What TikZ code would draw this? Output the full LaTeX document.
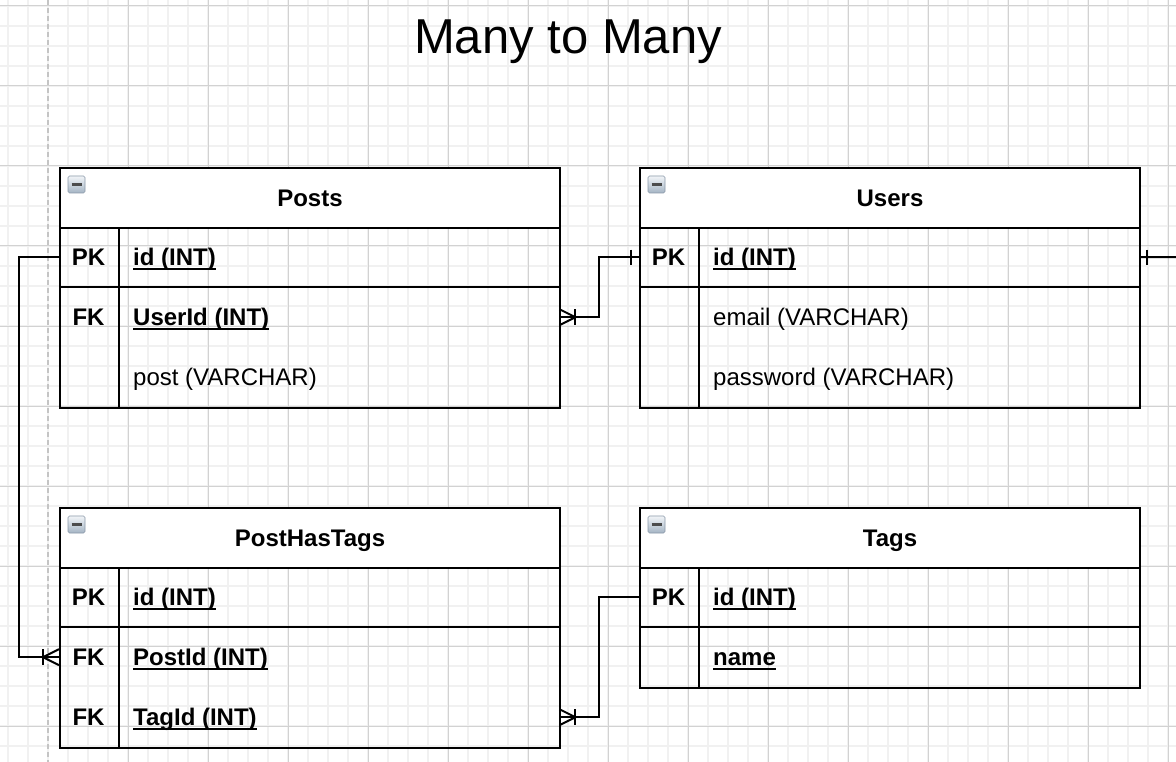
\documentclass[tikz,border=0pt]{standalone}
\usepackage{fontspec}
\setmainfont{Liberation Sans}
\usetikzlibrary{calc}
\definecolor{gridminor}{HTML}{F1F1F1}
\definecolor{gridmajor}{HTML}{D2D2D2}
\definecolor{pageedge}{HTML}{C4C4C4}
\definecolor{icontop}{HTML}{F2F5F8}
\definecolor{iconbot}{HTML}{A4B4C4}
\definecolor{iconedge}{HTML}{8A98A8}
\newcommand\fs{\fontsize{24pt}{28pt}\selectfont}
\newcommand\ulx[1]{\setbox0=\hbox{#1}\rlap{\rule[-4pt]{\wd0}{1.8pt}}\box0}
\begin{document}
\begin{tikzpicture}[x=1pt,y=-1pt,
  minorgrid/.style={draw=gridminor, line width=1.6pt},
  majorgrid/.style={draw=gridmajor, line width=1pt},
  edgeline/.style={draw=pageedge, line width=1.6pt, dash pattern=on 5pt off 3pt},
  tbl/.style={draw, line width=2pt, minimum width=500pt, minimum height=#1, anchor=north west, inner sep=0pt},
  hdr/.style={draw, fill=white, line width=2pt, minimum width=500pt, minimum height=60pt, anchor=north west, inner sep=0pt, font=\fs\bfseries, text height=17pt, text depth=0pt},
  rowcell/.style={minimum width=500pt, minimum height=60pt, anchor=north west, inner sep=0pt},
  sepline/.style={line width=2pt},
  keytxt/.style={anchor=base, inner sep=0pt, font=\fs\bfseries},
  fldtxt/.style={anchor=base west, inner sep=0pt, font=\fs},
  conn/.style={line width=2pt},
  titletxt/.style={anchor=base, inner sep=0pt, font=\fontsize{49pt}{58pt}\selectfont},
  minusicon/.pic={
    \draw[draw=iconedge, line width=0.6pt, rounded corners=1.5pt, top color=icontop, bottom color=iconbot] (0,0) rectangle (17,17);
    \draw[draw=black!70, line width=2.6pt] (3.5,8.5) -- (13.5,8.5);
  }
]
% background and grid
\fill[white] (0,0) rectangle (1176,762);
\useasboundingbox (0,0) rectangle (1176,762);
\foreach \x in {8,28,...,1176} \draw[minorgrid] (\x,0) -- (\x,762);
\foreach \y in {6,26,...,762} \draw[minorgrid] (0,\y) -- (1176,\y);
\foreach \x in {128,208,...,1176} \draw[majorgrid] (\x,0) -- (\x,762);
\foreach \y in {6,86,...,762} \draw[majorgrid] (0,\y) -- (1176,\y);
\draw[edgeline] (48,0) -- (48,762);

% title
\node[titletxt] (title) at (568,53.5) {Many to Many};

% ---------- Posts ----------
\node[tbl=240pt] (posts) at (59,167) {};
\node[hdr] (posts-h) at (59,167) {Posts};
\node[rowcell] (posts-pk) at (59,227) {};
\node[rowcell] (posts-fk) at (59,287) {};
\node[rowcell] (posts-post) at (59,347) {};
\draw[sepline] (posts-pk.south west) -- (posts-pk.south east);
\draw[sepline] (posts-h.south west -| 119,0) -- (posts.south west -| 119,0);
\node[keytxt] (posts-pk-k) at (88.5,265.6) {PK};
\node[fldtxt] (posts-pk-f) at (133,265.6) {\bfseries\ulx{id (INT)}};
\node[keytxt] (posts-fk-k) at (88.5,325.6) {FK};
\node[fldtxt] (posts-fk-f) at (133,325.6) {\bfseries\ulx{UserId (INT)}};
\node[fldtxt] (posts-post-f) at (133,385.6) {post (VARCHAR)};
\pic at ($(posts-h.north west)+(9,9)$) {minusicon};

% ---------- Users ----------
\node[tbl=240pt] (users) at (639,167) {};
\node[hdr] (users-h) at (639,167) {Users};
\node[rowcell] (users-pk) at (639,227) {};
\node[rowcell] (users-email) at (639,287) {};
\node[rowcell] (users-pw) at (639,347) {};
\draw[sepline] (users-pk.south west) -- (users-pk.south east);
\draw[sepline] (users-h.south west -| 699,0) -- (users.south west -| 699,0);
\node[keytxt] (users-pk-k) at (668.5,265.6) {PK};
\node[fldtxt] (users-pk-f) at (713,265.6) {\bfseries\ulx{id (INT)}};
\node[fldtxt] (users-email-f) at (713,325.6) {email (VARCHAR)};
\node[fldtxt] (users-pw-f) at (713,385.6) {password (VARCHAR)};
\pic at ($(users-h.north west)+(9,9)$) {minusicon};

% ---------- PostHasTags ----------
\node[tbl=240pt] (pht) at (59,507) {};
\node[hdr] (pht-h) at (59,507) {PostHasTags};
\node[rowcell] (pht-pk) at (59,567) {};
\node[rowcell] (pht-post) at (59,627) {};
\node[rowcell] (pht-tag) at (59,687) {};
\draw[sepline] (pht-pk.south west) -- (pht-pk.south east);
\draw[sepline] (pht-h.south west -| 119,0) -- (pht.south west -| 119,0);
\node[keytxt] (pht-pk-k) at (88.5,605.6) {PK};
\node[fldtxt] (pht-pk-f) at (133,605.6) {\bfseries\ulx{id (INT)}};
\node[keytxt] (pht-post-k) at (88.5,665.6) {FK};
\node[fldtxt] (pht-post-f) at (133,665.6) {\bfseries\ulx{PostId (INT)}};
\node[keytxt] (pht-tag-k) at (88.5,725.6) {FK};
\node[fldtxt] (pht-tag-f) at (133,725.6) {\bfseries\ulx{TagId (INT)}};
\pic at ($(pht-h.north west)+(9,9)$) {minusicon};

% ---------- Tags ----------
\node[tbl=180pt] (tags) at (639,507) {};
\node[hdr] (tags-h) at (639,507) {Tags};
\node[rowcell] (tags-pk) at (639,567) {};
\node[rowcell] (tags-name) at (639,627) {};
\draw[sepline] (tags-pk.south west) -- (tags-pk.south east);
\draw[sepline] (tags-h.south west -| 699,0) -- (tags.south west -| 699,0);
\node[keytxt] (tags-pk-k) at (668.5,605.6) {PK};
\node[fldtxt] (tags-pk-f) at (713,605.6) {\bfseries\ulx{id (INT)}};
\node[fldtxt] (tags-name-f) at (713,665.6) {\bfseries\ulx{name}};
\pic at ($(tags-h.north west)+(9,9)$) {minusicon};

% ---------- connectors ----------
% Users.id -> Posts.UserId
\draw[conn] (users-pk.west) -- ++(-40,0) |- (posts-fk.east);
\draw[conn] ($(users-pk.west)+(-8,-7.5)$) -- ($(users-pk.west)+(-8,7.5)$);
\draw[conn] ($(posts-fk.east)+(0,-8)$) -- ($(posts-fk.east)+(16,0)$) -- ($(posts-fk.east)+(0,8)$);
\draw[conn] ($(posts-fk.east)+(16,-8)$) -- ($(posts-fk.east)+(16,8)$);

% Posts.id -> PostHasTags.PostId
\draw[conn] (posts-pk.west) -- ++(-40,0) |- (pht-post.west);
\draw[conn] ($(pht-post.west)+(0,-8)$) -- ($(pht-post.west)+(-16,0)$) -- ($(pht-post.west)+(0,8)$);
\draw[conn] ($(pht-post.west)+(-16,-8)$) -- ($(pht-post.west)+(-16,8)$);

% Tags.id -> PostHasTags.TagId
\draw[conn] (tags-pk.west) -- ++(-40,0) |- (pht-tag.east);
\draw[conn] ($(pht-tag.east)+(0,-8)$) -- ($(pht-tag.east)+(16,0)$) -- ($(pht-tag.east)+(0,8)$);
\draw[conn] ($(pht-tag.east)+(16,-8)$) -- ($(pht-tag.east)+(16,8)$);

% Users.id -> off page right
\coordinate (offright) at (1180,257);
\draw[conn] (users-pk.east) -- (offright);
\draw[conn] ($(users-pk.east)+(8,-7.5)$) -- ($(users-pk.east)+(8,7.5)$);
\end{tikzpicture}
\end{document}
